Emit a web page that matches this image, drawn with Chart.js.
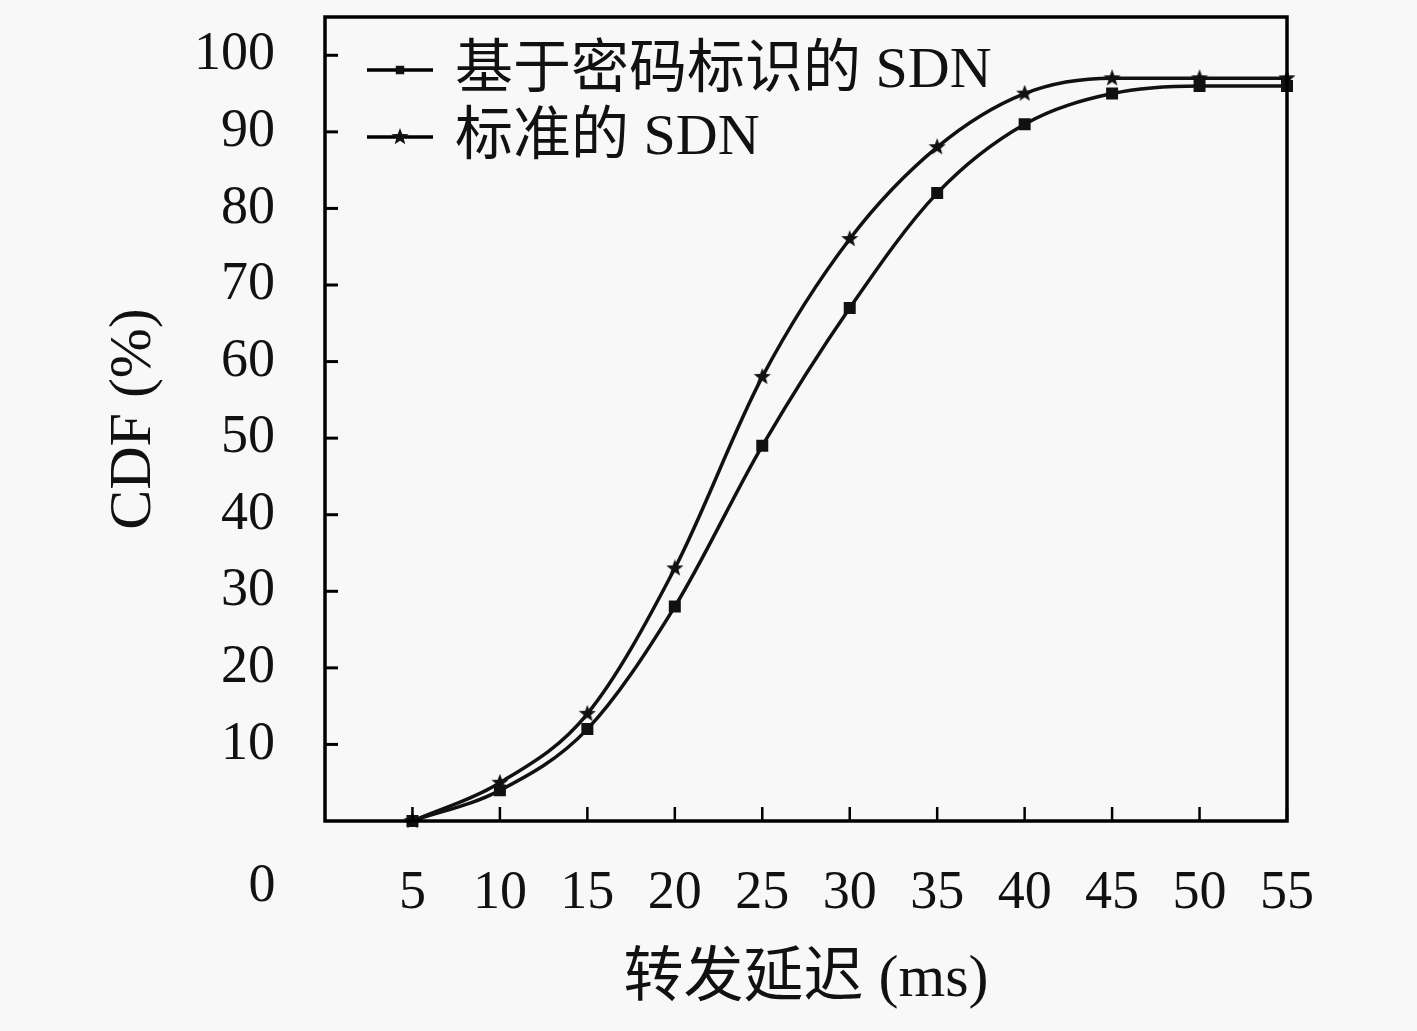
<!DOCTYPE html>
<html>
<head>
<meta charset="utf-8">
<script src="https://cdn.jsdelivr.net/npm/chart.js@4.4.1/dist/chart.umd.min.js"></script>
<style>
  html, body { margin: 0; padding: 0; background: #f8f8f8; }
  #wrap { width: 1417px; height: 1031px; }
</style>
</head>
<body>
<div id="wrap"><canvas id="cdfChart" width="1417" height="1031"></canvas></div>
<script>
// forwarding delay (ms) and CDF values (%)
const delays = [5, 10, 15, 20, 25, 30, 35, 40, 45, 50, 55];
const cryptoSDN = [0, 4, 12, 28, 49, 67, 82, 91, 95, 96, 96];
const standardSDN = [0, 5, 14, 33, 58, 76, 88, 95, 97, 97, 97];
const seriesNames = ["基于密码标识的 SDN", "标准的 SDN"];
const xTicks = [5, 10, 15, 20, 25, 30, 35, 40, 45, 50, 55];
const yTicks = [10, 20, 30, 40, 50, 60, 70, 80, 90, 100];

const serif = "'Liberation Serif', 'DejaVu Serif', 'Noto Sans CJK SC', serif";

// 5-point star marker
function makeStar(size) {
  const c = document.createElement("canvas");
  c.width = size; c.height = size;
  const g = c.getContext("2d");
  const cx = size / 2, cy = size / 2, R = size / 2, r = R * 0.42;
  g.beginPath();
  for (let i = 0; i < 10; i++) {
    const a = -Math.PI / 2 + i * Math.PI / 5;
    const rr = i % 2 === 0 ? R : r;
    g.lineTo(cx + rr * Math.cos(a), cy + rr * Math.sin(a));
  }
  g.closePath();
  g.fillStyle = "#111";
  g.fill();
  return c;
}
const starImg = makeStar(18);

const toPoints = (ys) => delays.map((x, i) => ({ x: x, y: ys[i] }));

const framePlugin = {
  id: "frame",
  afterDatasetsDraw(chart) {
    const { ctx, chartArea: a, scales } = chart;
    ctx.save();
    ctx.strokeStyle = "#000";
    // inward ticks
    ctx.lineWidth = 2.5;
    xTicks.forEach(v => {
      const px = scales.x.getPixelForValue(v);
      ctx.beginPath(); ctx.moveTo(px, a.bottom); ctx.lineTo(px, a.bottom - 14); ctx.stroke();
    });
    ctx.lineWidth = 3;
    yTicks.forEach(v => {
      const py = scales.y.getPixelForValue(v);
      ctx.beginPath(); ctx.moveTo(a.left, py); ctx.lineTo(a.left + 13, py); ctx.stroke();
    });
    // plot border
    ctx.lineWidth = 3.5;
    ctx.strokeRect(a.left, a.top, a.right - a.left, a.bottom - a.top);

    // shared origin label
    ctx.fillStyle = "#111";
    ctx.font = "54px " + serif;
    ctx.textAlign = "center";
    ctx.textBaseline = "middle";
    ctx.fillText("0", a.left - 63, a.bottom + 66);

    // legend inside the plot, top-left
    ctx.font = "58px " + serif;
    ctx.textAlign = "left";
    chart.data.datasets.forEach((ds, i) => {
      const y = a.top + 53 + i * 67;
      const x0 = a.left + 42, x1 = a.left + 108;
      ctx.lineWidth = 3.5;
      ctx.beginPath(); ctx.moveTo(x0, y); ctx.lineTo(x1, y); ctx.stroke();
      Chart.helpers.drawPoint(ctx, { pointStyle: ds.pointStyle, radius: ds.pointRadius, rotation: 0 }, (x0 + x1) / 2, y);
      ctx.fillText(ds.label, a.left + 130, y + 2);
    });
    ctx.restore();
  }
};

new Chart(document.getElementById("cdfChart").getContext("2d"), {
  type: "line",
  data: {
    datasets: [
      {
        label: seriesNames[0],
        data: toPoints(cryptoSDN),
        borderColor: "#111",
        backgroundColor: "#111",
        borderWidth: 3.5,
        pointStyle: "rect",
        pointRadius: 6,
        cubicInterpolationMode: "monotone",
        clip: 10
      },
      {
        label: seriesNames[1],
        data: toPoints(standardSDN),
        borderColor: "#111",
        backgroundColor: "#111",
        borderWidth: 3.5,
        pointStyle: starImg,
        pointRadius: 9,
        cubicInterpolationMode: "monotone",
        clip: 10
      }
    ]
  },
  options: {
    responsive: false,
    animation: false,
    devicePixelRatio: 1,
    layout: { autoPadding: false, padding: { top: 17, right: 130, bottom: 0, left: 0 } },
    plugins: {
      legend: { display: false },
      tooltip: { enabled: false }
    },
    scales: {
      x: {
        type: "linear",
        min: 0,
        max: 55,
        afterFit(scale) {
          scale.height = 210;
          scale.paddingLeft = 0; scale.paddingRight = 0;
        },
        afterBuildTicks(scale) { scale.ticks = [0].concat(xTicks).map(v => ({ value: v })); },
        grid: { display: false, drawTicks: false },
        border: { display: false },
        ticks: {
          padding: 40,
          color: "#111",
          font: { family: serif, size: 54 },
          callback: (v) => (v === 0 ? "" : v)
        },
        title: {
          display: true,
          text: "转发延迟 (ms)",
          color: "#111",
          font: { family: serif, size: 60 },
          padding: { top: 0, bottom: 15 }
        }
      },
      y: {
        min: 0,
        max: 105,
        afterFit(scale) {
          scale.width = 325;
          scale.paddingTop = 0; scale.paddingBottom = 0;
        },
        afterBuildTicks(scale) { scale.ticks = [0].concat(yTicks).map(v => ({ value: v })); },
        grid: { display: false, drawTicks: false },
        border: { display: false },
        ticks: {
          padding: 50,
          color: "#111",
          font: { family: serif, size: 54 },
          callback: (v) => (v === 0 ? "" : v)
        },
        title: {
          display: true,
          text: "CDF (%)",
          color: "#111",
          font: { family: serif, size: 60 },
          padding: { top: 98, bottom: 0 }
        }
      }
    }
  },
  plugins: [framePlugin]
});
</script>
</body>
</html>
